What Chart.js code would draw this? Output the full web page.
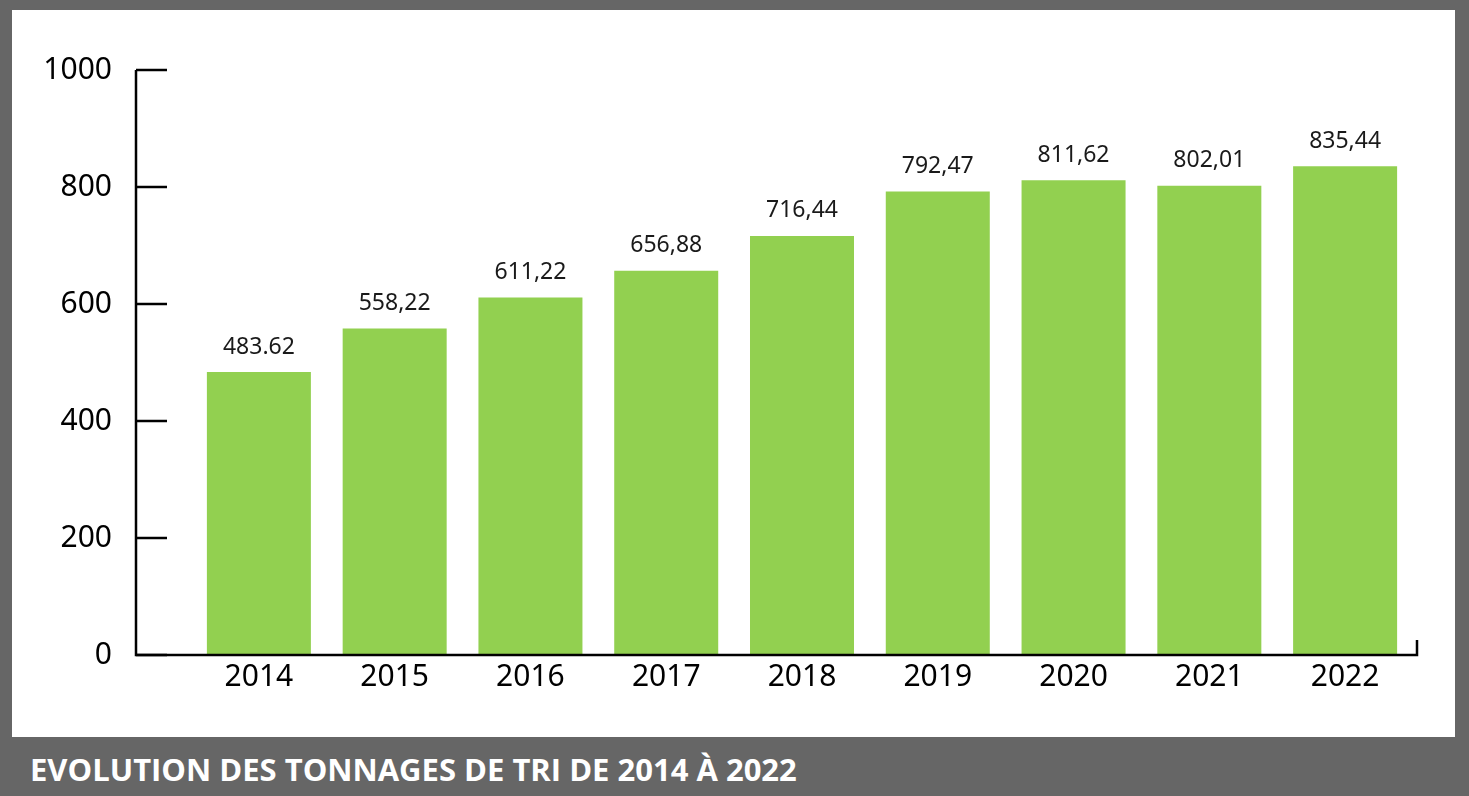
<!DOCTYPE html>
<html>
<head>
<meta charset="utf-8">
<script src="https://cdn.jsdelivr.net/npm/chart.js@4"></script>
<style>
  html, body { margin: 0; padding: 0; background: #666666; width: 1469px; height: 796px; overflow: hidden; }
  #panel { position: absolute; left: 12px; top: 10px; width: 1443px; height: 727px; background: #ffffff; }
  #wrap { position: absolute; left: 0; top: 0; width: 1469px; height: 737px; }
  #titre { position: absolute; left: 30px; top: 751px; color: #ffffff; font-family: "Open Sans", sans-serif; font-weight: bold; font-size: 31px; line-height: 36px; }
</style>
</head>
<body>
<div id="panel"></div>
<div id="wrap"><canvas id="c" width="1469" height="737"></canvas></div>
<div id="titre">EVOLUTION DES TONNAGES DE TRI DE 2014 À 2022</div>
<script>
// --- Données ---
const annees = ["2014", "2015", "2016", "2017", "2018", "2019", "2020", "2021", "2022"];
const tonnages = [483.62, 558.22, 611.22, 656.88, 716.44, 792.47, 811.62, 802.01, 835.44];
const etiquettes = ["483.62", "558,22", "611,22", "656,88", "716,44", "792,47", "811,62", "802,01", "835,44"];

const vert = "#92D050";
const police = "'Noto Sans', sans-serif";

// axes dessinés à la main : l'axe Y est décalé à gauche de la zone des barres
const decalageAxe = 55;
const axesPlugin = {
  id: "axes",
  afterDraw(chart) {
    const ctx = chart.ctx;
    const ca = chart.chartArea;
    const y = chart.scales.y;
    const xAxe = ca.left - decalageAxe;
    ctx.save();
    ctx.strokeStyle = "#000";
    ctx.lineWidth = 2.5;
    ctx.beginPath();
    ctx.moveTo(xAxe, ca.top);
    ctx.lineTo(xAxe, ca.bottom);
    ctx.lineTo(ca.right + 4, ca.bottom);
    ctx.lineTo(ca.right + 4, ca.bottom - 15);
    ctx.stroke();
    y.ticks.forEach((t) => {
      const py = y.getPixelForValue(t.value);
      ctx.beginPath();
      ctx.moveTo(xAxe, py);
      ctx.lineTo(xAxe + 31, py);
      ctx.stroke();
    });
    ctx.restore();
  },
};

// étiquettes de valeur au-dessus des barres
const etiquettesPlugin = {
  id: "etiquettes",
  afterDatasetsDraw(chart) {
    const ctx = chart.ctx;
    const meta = chart.getDatasetMeta(0);
    ctx.save();
    ctx.fillStyle = "#1a1a1a";
    ctx.font = "23px " + police;
    ctx.textAlign = "center";
    ctx.textBaseline = "middle";
    meta.data.forEach((bar, i) => {
      ctx.fillText(etiquettes[i], bar.x, bar.y - 25);
    });
    ctx.restore();
  },
};

new Chart(document.getElementById("c"), {
  type: "bar",
  data: {
    labels: annees,
    datasets: [{
      data: tonnages,
      backgroundColor: vert,
      borderWidth: 0,
      barPercentage: 0.766,
      categoryPercentage: 1,
    }],
  },
  options: {
    responsive: false,
    animation: false,
    layout: { padding: { top: 70, right: 56, left: 0, bottom: 0 } },
    plugins: { legend: { display: false }, tooltip: { enabled: false } },
    scales: {
      x: {
        grid: { display: false, drawTicks: false },
        border: { display: false },
        ticks: { color: "#000", font: { family: police, size: 30 }, padding: 4 },
        afterFit: (s) => { s.height = 82; },
      },
      y: {
        min: 0,
        max: 1000,
        // graduations invisibles : elles servent seulement à écarter les libellés de l'axe
        grid: { display: true, drawOnChartArea: false, drawTicks: true, tickLength: 76, tickColor: "rgba(0,0,0,0)" },
        border: { display: false },
        ticks: {
          stepSize: 200,
          color: "#000",
          font: { family: police, size: 30 },
          padding: 3,
          callback: (v) => String(v),
        },
        afterFit: (s) => { s.width = 191; },
      },
    },
  },
  plugins: [axesPlugin, etiquettesPlugin],
});
</script>
</body>
</html>
